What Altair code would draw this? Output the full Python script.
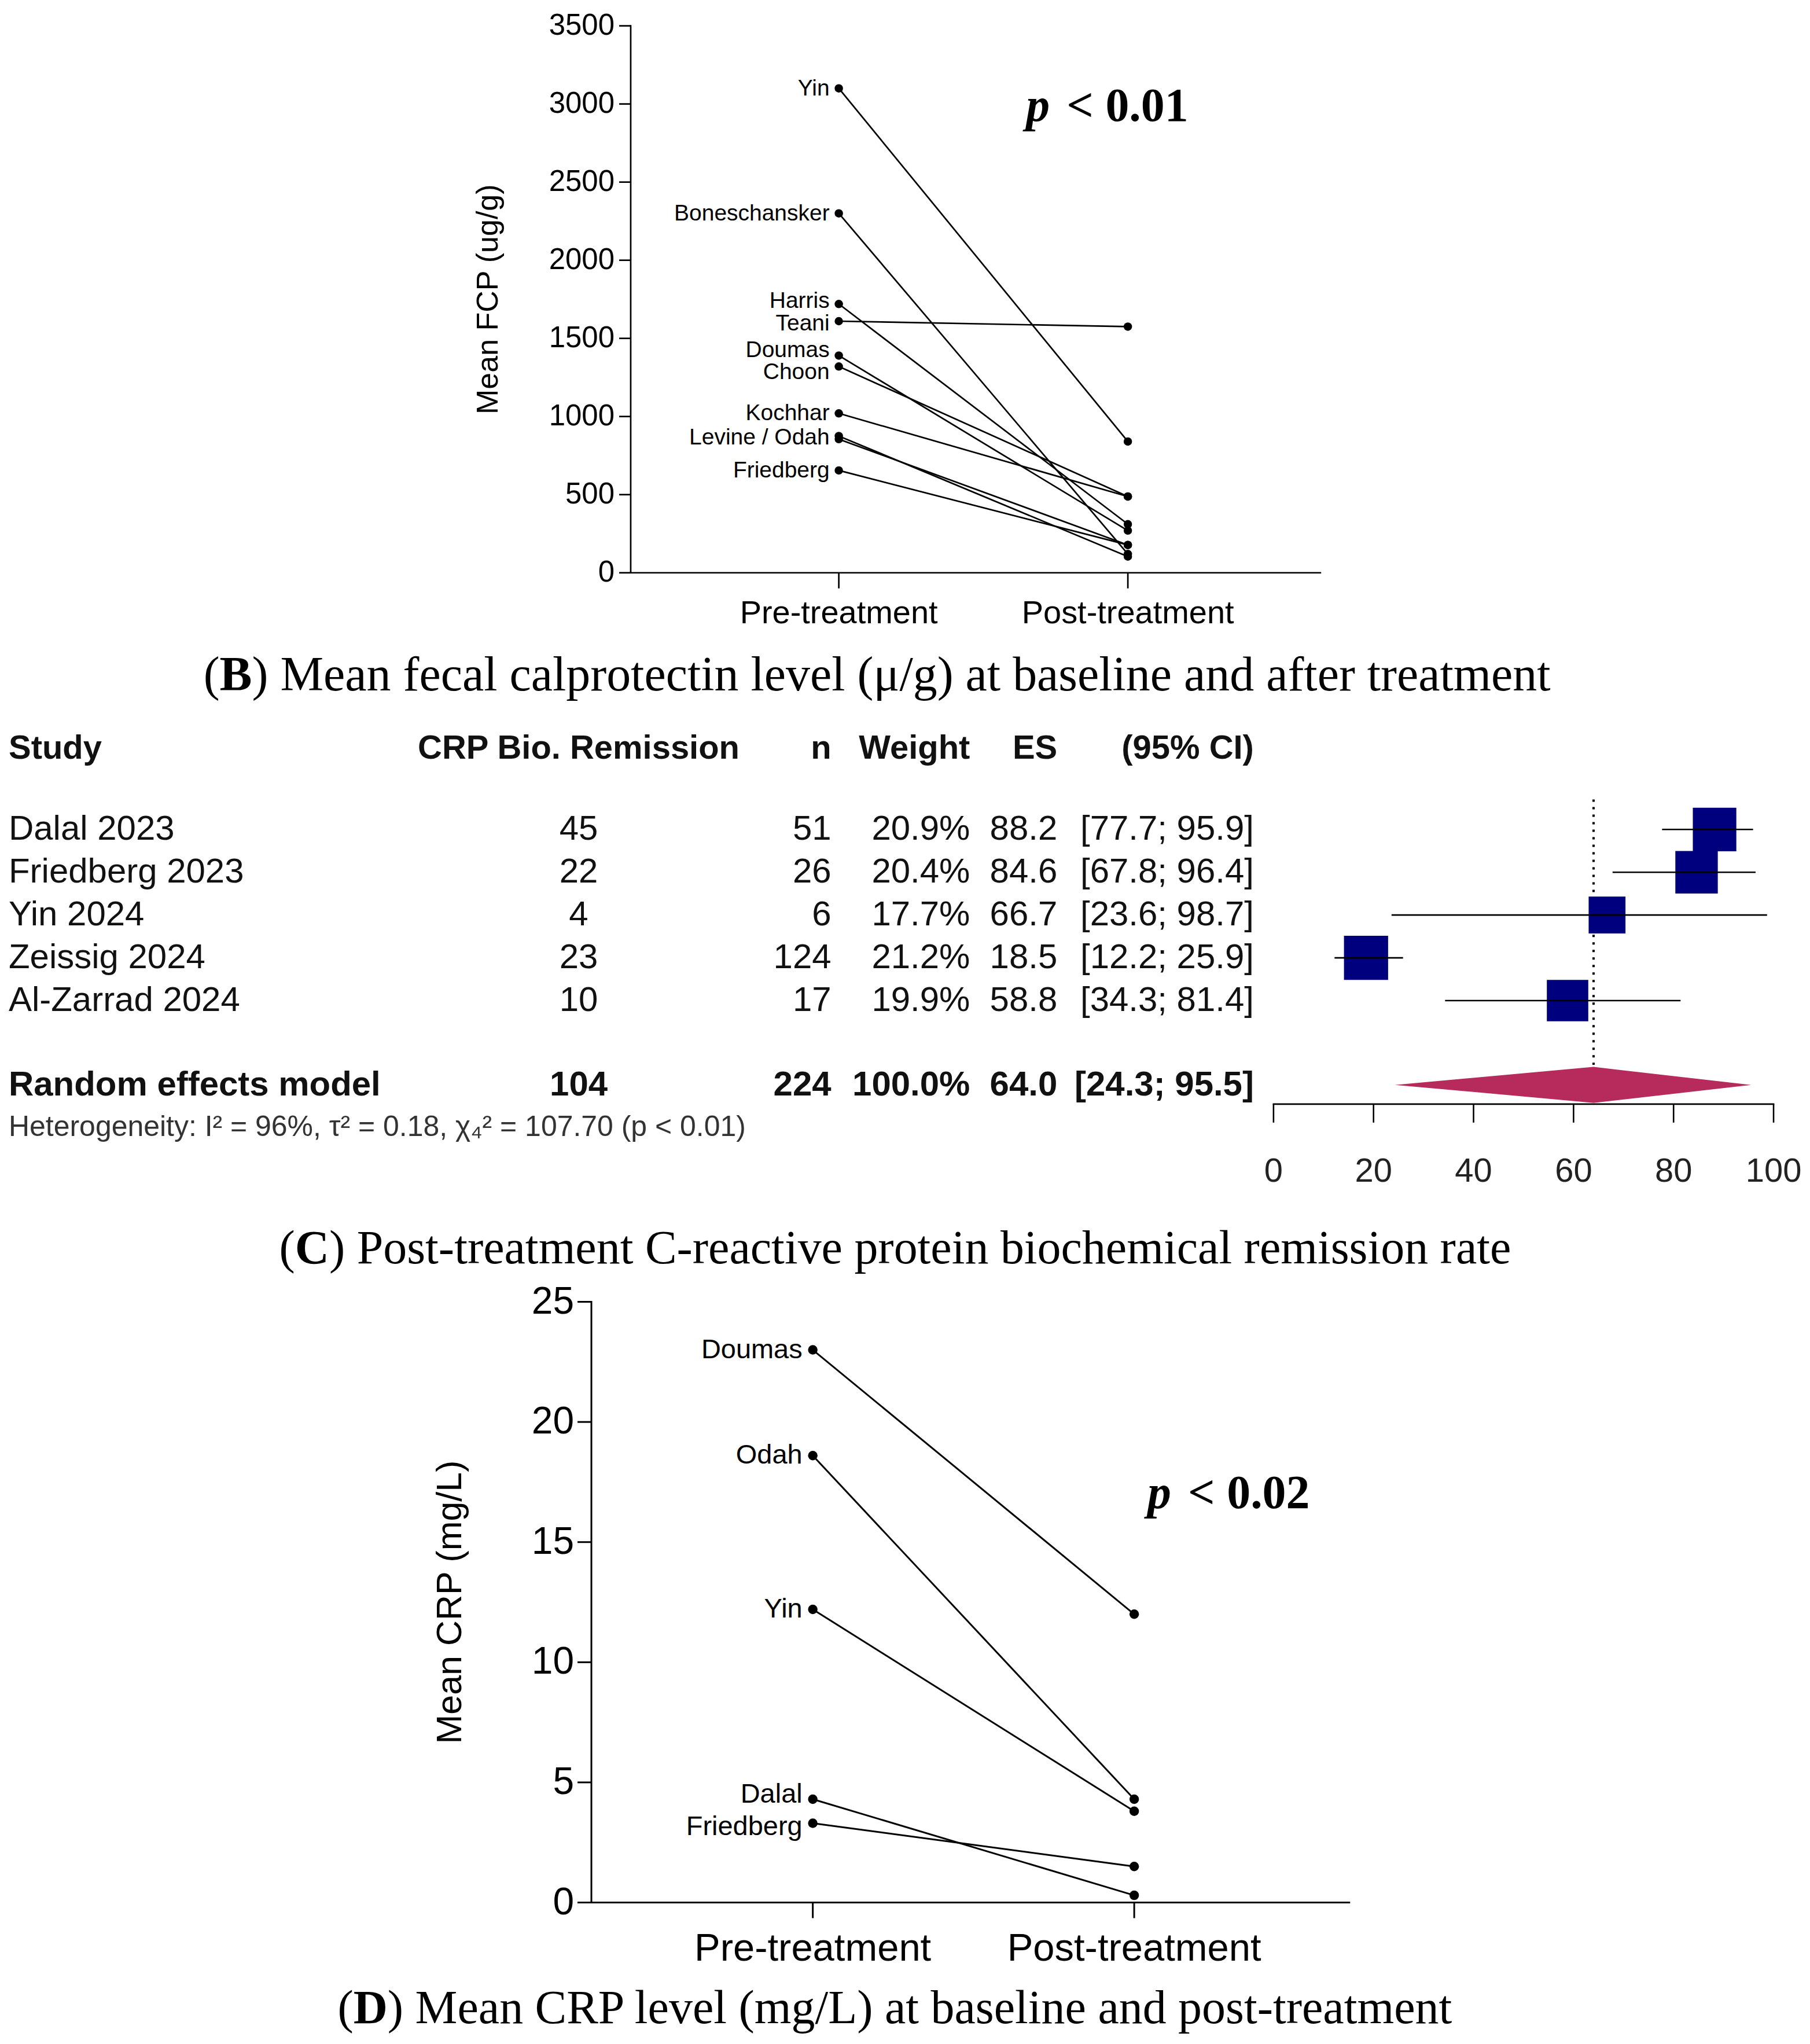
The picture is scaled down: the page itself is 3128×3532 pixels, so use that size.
import altair as alt
import pandas as pd

# ---------------- data ----------------
phases = ["Pre-treatment", "Post-treatment"]

# Panel B: mean fecal calprotectin (ug/g)
fcp_studies = ["Yin", "Boneschansker", "Harris", "Teani", "Doumas", "Choon",
               "Kochhar", "Levine", "Odah", "Friedberg"]
fcp_pre = [3100, 2300, 1720, 1610, 1390, 1320, 1020, 875, 855, 655]
fcp_post = [840, 120, 311, 1575, 270, 488, 488, 104, 178, 178]
fcp_label_text = ["Yin", "Boneschansker", "Harris", "Teani", "Doumas", "Choon",
                  "Kochhar", "Levine / Odah", "Friedberg"]
fcp_label_value = [3100, 2300, 1740, 1595, 1425, 1285, 1020, 865, 655]
fcp_ticks = [0, 500, 1000, 1500, 2000, 2500, 3000, 3500]

# Panel C: CRP biochemical remission forest plot
c_studies = ["Dalal 2023", "Friedberg 2023", "Yin 2024", "Zeissig 2024", "Al-Zarrad 2024"]
c_events = [45, 22, 4, 23, 10]
c_n = [51, 26, 6, 124, 17]
c_weight = [20.9, 20.4, 17.7, 21.2, 19.9]
c_es = [88.2, 84.6, 66.7, 18.5, 58.8]
c_lo = [77.7, 67.8, 23.6, 12.2, 34.3]
c_hi = [95.9, 96.4, 98.7, 25.9, 81.4]
m_label = "Random effects model"
m_events, m_n, m_weight, m_es, m_lo, m_hi = 104, 224, 100.0, 64.0, 24.3, 95.5
c_headers = ["Study", "CRP Bio. Remission", "n", "Weight", "ES", "(95% CI)"]
het_text = "Heterogeneity: I\u00b2 = 96%, \u03c4\u00b2 = 0.18, \u03c7\u2084\u00b2 = 107.70 (p < 0.01)"
c_ticks = [0, 20, 40, 60, 80, 100]

# Panel D: mean CRP (mg/L)
crp_studies = ["Doumas", "Odah", "Yin", "Dalal", "Friedberg"]
crp_pre = [23.0, 18.6, 12.2, 4.3, 3.3]
crp_post = [12.0, 4.3, 3.8, 0.3, 1.5]
crp_label_value = [23.0, 18.6, 12.2, 4.5, 3.15]
crp_ticks = [0, 5, 10, 15, 20, 25]

captions = {
    "B": "Mean fecal calprotectin level (\u03bc/g) at baseline and after treatment",
    "C": "Post-treatment C-reactive protein biochemical remission rate",
    "D": "Mean CRP level (mg/L) at baseline and post-treatment",
}
pvals = {"B": "< 0.01", "D": "< 0.02"}

SANS = "Liberation Sans"
SERIF = "Liberation Serif"
ONE = pd.DataFrame({"k": [0]})
PAGE_W = 3112          # drawing width inside the page margin
M = 8                  # page margin


def spacer(h):
    return alt.Chart(ONE).mark_point(opacity=0).encode(
        x=alt.value(0), y=alt.value(0)).properties(width=10, height=h)


def text_at(txt, x, y, **kw):
    return alt.Chart(ONE).mark_text(text=txt, baseline="middle", **kw).encode(
        x=alt.value(x), y=alt.value(y))


def rule_at(x, y, x2=None, y2=None, width=2.6, color="black"):
    enc = {"x": alt.value(x), "y": alt.value(y)}
    if x2 is not None:
        enc["x2"] = alt.value(x2)
    if y2 is not None:
        enc["y2"] = alt.value(y2)
    return alt.Chart(ONE).mark_rule(color=color, strokeWidth=width,
                                    strokeCap="square").encode(**enc)


def caption_layers(letter, rest, x0, y, size=82):
    w_paren = 0.333 * size
    w_letter = (0.667 if letter == "B" else 0.722) * size
    return [
        text_at("(", x0, y, align="left", font=SERIF, fontSize=size, color="black"),
        text_at(letter, x0 + w_paren, y, align="left", font=SERIF, fontSize=size,
                fontWeight="bold", color="black"),
        text_at(") " + rest, x0 + w_paren + w_letter, y, align="left", font=SERIF,
                fontSize=size, color="black"),
    ]


def pval_layers(rest, x0, y, size=82):
    return [
        text_at("p", x0, y, align="left", font=SERIF, fontSize=size, fontWeight="bold",
                fontStyle="italic", color="black"),
        text_at(rest, x0 + 70, y, align="left", font=SERIF, fontSize=size,
                fontWeight="bold", color="black"),
    ]


def paired_panel(names, pre, post, lab_text, lab_val, ticks, ymax, h,
                 ax_x, ax_right, pre_px, post_px, ytitle, title_x,
                 tick_font, tick_len, tick_gap, xlab_font, xlab_y, title_font,
                 lab_font, lab_dx, stroke, dot):
    rows = []
    for s, a, b in zip(names, pre, post):
        rows.append({"study": s, "pos": 1, "value": a})
        rows.append({"study": s, "pos": 2, "value": b})
    df = pd.DataFrame(rows)
    ldf = pd.DataFrame({"label": lab_text, "value": lab_val, "pos": 1})
    tdf = pd.DataFrame({"v": ticks})
    pdf = pd.DataFrame({"pos": [1, 2], "phase": phases})
    unit = post_px - pre_px
    d0 = 1 - pre_px / unit
    xs = alt.Scale(domain=[d0, d0 + PAGE_W / unit], nice=False, zero=False)
    ys = alt.Scale(domain=[0, ymax], nice=False)
    X = alt.X("pos:Q", scale=xs, axis=None)
    lines = alt.Chart(df).mark_line(color="black", strokeWidth=stroke).encode(
        x=X, y=alt.Y("value:Q", scale=ys, axis=None), detail="study:N", order="pos:Q")
    pts = alt.Chart(df).mark_circle(color="black", opacity=1, size=dot).encode(
        x=X, y=alt.Y("value:Q", scale=ys))
    labs = alt.Chart(ldf).mark_text(align="right", baseline="middle", dx=lab_dx,
                                    font=SANS, fontSize=lab_font, color="black").encode(
        x=X, y=alt.Y("value:Q", scale=ys), text="label:N")
    yticks = alt.Chart(tdf).mark_rule(color="black", strokeWidth=stroke).encode(
        y=alt.Y("v:Q", scale=ys), x=alt.value(ax_x - tick_len), x2=alt.value(ax_x))
    ylabs = alt.Chart(tdf).mark_text(align="right", baseline="middle", font=SANS,
                                     fontSize=tick_font, color="black").encode(
        y=alt.Y("v:Q", scale=ys), x=alt.value(ax_x - tick_len - tick_gap),
        text=alt.Text("v:Q", format="d"))
    xticks = alt.Chart(pdf).mark_rule(color="black", strokeWidth=stroke).encode(
        x=X, y=alt.value(h), y2=alt.value(h + 27))
    xlabs = alt.Chart(pdf).mark_text(align="center", baseline="middle", font=SANS,
                                     fontSize=xlab_font, color="black").encode(
        x=X, y=alt.value(xlab_y), text="phase:N")
    yline = rule_at(ax_x, 0, y2=h, width=stroke)
    xline = rule_at(ax_x, h, x2=ax_right, width=stroke)
    ytitle_l = text_at(ytitle, title_x, h / 2, align="center", angle=270, font=SANS,
                       fontSize=title_font, color="black")
    return [lines, pts, labs, yticks, ylabs, xticks, xlabs, yline, xline, ytitle_l]


# ---------------- panel B ----------------
PB_Y, PB_H = 40, 946
b_layers = paired_panel(fcp_studies, fcp_pre, fcp_post, fcp_label_text, fcp_label_value,
                        fcp_ticks, 3500, PB_H,
                        ax_x=1088 - M, ax_right=2281 - M, pre_px=1448 - M, post_px=1948 - M,
                        ytitle="Mean FCP (ug/g)", title_x=842 - M,
                        tick_font=51, tick_len=20, tick_gap=8, xlab_font=56,
                        xlab_y=1056 - PB_Y, title_font=52, lab_font=39, lab_dx=-16,
                        stroke=2.7, dot=210)
b_layers += pval_layers(pvals["B"], 1772 - M, 180 - PB_Y)
b_layers += caption_layers("B", captions["B"], 349 - M, 1164 - PB_Y, size=84)
panelB = alt.layer(*b_layers).properties(width=PAGE_W, height=PB_H)

# ---------------- panel C ----------------
PC_Y, PC_H = 1250, 655
FOR_X, FOR_W = 2200, 865
ROW0, ROWH = 1430, 74
row_top = (PC_Y - ROW0) / ROWH
row_bot = (PC_Y + PC_H - ROW0) / ROWH
yC = alt.Scale(domain=[row_top, row_bot], reverse=True, nice=False, zero=False)
px_per = FOR_W / 100.0
f0 = -(FOR_X - M) / px_per
xF = alt.Scale(domain=[f0, f0 + PAGE_W / px_per], nice=False, zero=False)

body = pd.DataFrame({
    "row": list(range(len(c_studies))),
    "study": c_studies,
    "ev": [str(v) for v in c_events],
    "n": [str(v) for v in c_n],
    "w": [f"{v:.1f}%" for v in c_weight],
    "es": [f"{v:.1f}" for v in c_es],
    "ci": [f"[{a:.1f}; {b:.1f}]" for a, b in zip(c_lo, c_hi)],
})
model_row = len(c_studies) + 1 - 0.03
model = pd.DataFrame({
    "row": [model_row], "study": [m_label], "ev": [str(m_events)], "n": [str(m_n)],
    "w": [f"{m_weight:.1f}%"], "es": [f"{m_es:.1f}"], "ci": [f"[{m_lo:.1f}; {m_hi:.1f}]"],
})
head = pd.DataFrame({"row": [-1.89], "study": [c_headers[0]], "ev": [c_headers[1]],
                     "n": [c_headers[2]], "w": [c_headers[3]], "es": [c_headers[4]],
                     "ci": [c_headers[5]]})

fdf = pd.DataFrame({"row": list(range(len(c_studies))), "es": c_es, "lo": c_lo,
                    "hi": c_hi, "weight": c_weight})
mdf = pd.DataFrame({"row": [model_row], "es": [m_es], "lo": [m_lo], "hi": [m_hi]})
ddf = pd.DataFrame({"x": [m_lo, m_es, m_hi],
                    "yt": [model_row, model_row - 0.42, model_row],
                    "yb": [model_row, model_row + 0.42, model_row]})
ctdf = pd.DataFrame({"v": c_ticks})
cax = pd.DataFrame({"a": [min(c_ticks)], "b": [max(c_ticks)]})

XF = lambda f: alt.X(f, scale=xF, axis=None)
YC = lambda f: alt.Y(f, scale=yC, axis=None)

dotted = alt.Chart(mdf).transform_calculate(
    ytop="-0.7", ybot="datum.row - 0.42").mark_rule(
    color="black", strokeWidth=4, strokeDash=[4, 9]).encode(
    x=XF("es:Q"), y=YC("ytop:Q"), y2="ybot:Q")
squares = alt.Chart(fdf).transform_calculate(
    area="pow(3.6 * datum.weight, 2)").mark_square(color="#00007F", opacity=1).encode(
    x=XF("es:Q"), y=YC("row:Q"), size=alt.Size("area:Q", scale=None, legend=None))
cis = alt.Chart(fdf).mark_rule(color="black", strokeWidth=2.6).encode(
    x=XF("lo:Q"), x2="hi:Q", y=YC("row:Q"))
diamond = alt.Chart(ddf).mark_area(color="#B62A5C", opacity=1, interpolate="linear").encode(
    x=XF("x:Q"), y=YC("yt:Q"), y2="yb:Q")
f_axis = alt.Chart(cax).mark_rule(color="black", strokeWidth=2.6, strokeCap="square").encode(
    x=XF("a:Q"), x2="b:Q", y=alt.value(PC_H))
f_ticks = alt.Chart(ctdf).mark_rule(color="black", strokeWidth=2.6).encode(
    x=XF("v:Q"), y=alt.value(PC_H), y2=alt.value(PC_H + 32))
f_labs = alt.Chart(ctdf).mark_text(align="center", baseline="middle", font=SANS,
                                   fontSize=58, color="#222222").encode(
    x=XF("v:Q"), y=alt.value(2022 - PC_Y), text=alt.Text("v:Q", format="d"))

cols = [("study", "left", 4), ("ev", "center", 990), ("n", "right", 1427),
        ("w", "right", 1667), ("es", "right", 1818), ("ci", "right", 2158)]
c_layers = [dotted, squares, cis, diamond, f_axis, f_ticks, f_labs]
for dfx, weight, size in [(body, "normal", 60), (model, "bold", 60), (head, "bold", 58)]:
    for col, align, xpos in cols:
        c_layers.append(
            alt.Chart(dfx).mark_text(align=align, baseline="middle", font=SANS,
                                     fontSize=size, fontWeight=weight, color="#111111").encode(
                x=alt.value(xpos), y=YC("row:Q"), text=f"{col}:N"))
het_df = pd.DataFrame({"row": [model_row + 0.99], "t": [het_text]})
c_layers.append(alt.Chart(het_df).mark_text(align="left", baseline="middle", font=SANS,
                                            fontSize=50, color="#333333").encode(
    x=alt.value(4), y=YC("row:Q"), text="t:N"))
c_layers += caption_layers("C", captions["C"], 480 - M, 2155 - PC_Y)
panelC = alt.layer(*c_layers).properties(width=PAGE_W, height=PC_H)

# ---------------- panel D ----------------
PD_Y, PD_H = 2247, 1039
d_layers = paired_panel(crp_studies, crp_pre, crp_post, crp_studies, crp_label_value,
                        crp_ticks, 25, PD_H,
                        ax_x=1020 - M, ax_right=2331 - M, pre_px=1403 - M, post_px=1959 - M,
                        ytitle="Mean CRP (mg/L)", title_x=777 - M,
                        tick_font=66, tick_len=24, tick_gap=6, xlab_font=67,
                        xlab_y=3367 - PD_Y, title_font=61, lab_font=47, lab_dx=-18,
                        stroke=3, dot=270)
d_layers += pval_layers(pvals["D"], 1982 - M, 2579 - PD_Y)
d_layers += caption_layers("D", captions["D"], 581 - M, 3470 - PD_Y)
panelD = alt.layer(*d_layers).properties(width=PAGE_W, height=PD_H)

# ---------------- assemble ----------------
chart = alt.vconcat(
    spacer(PB_Y - M),
    panelB,
    spacer(PC_Y - (PB_Y + PB_H)),
    panelC,
    spacer(PD_Y - (PC_Y + PC_H)),
    panelD,
    spacing=0, bounds="flush",
).properties(padding=0, background="white").configure_view(strokeWidth=0)

chart.save("out.html", embed_options={"renderer": "svg", "actions": False})
